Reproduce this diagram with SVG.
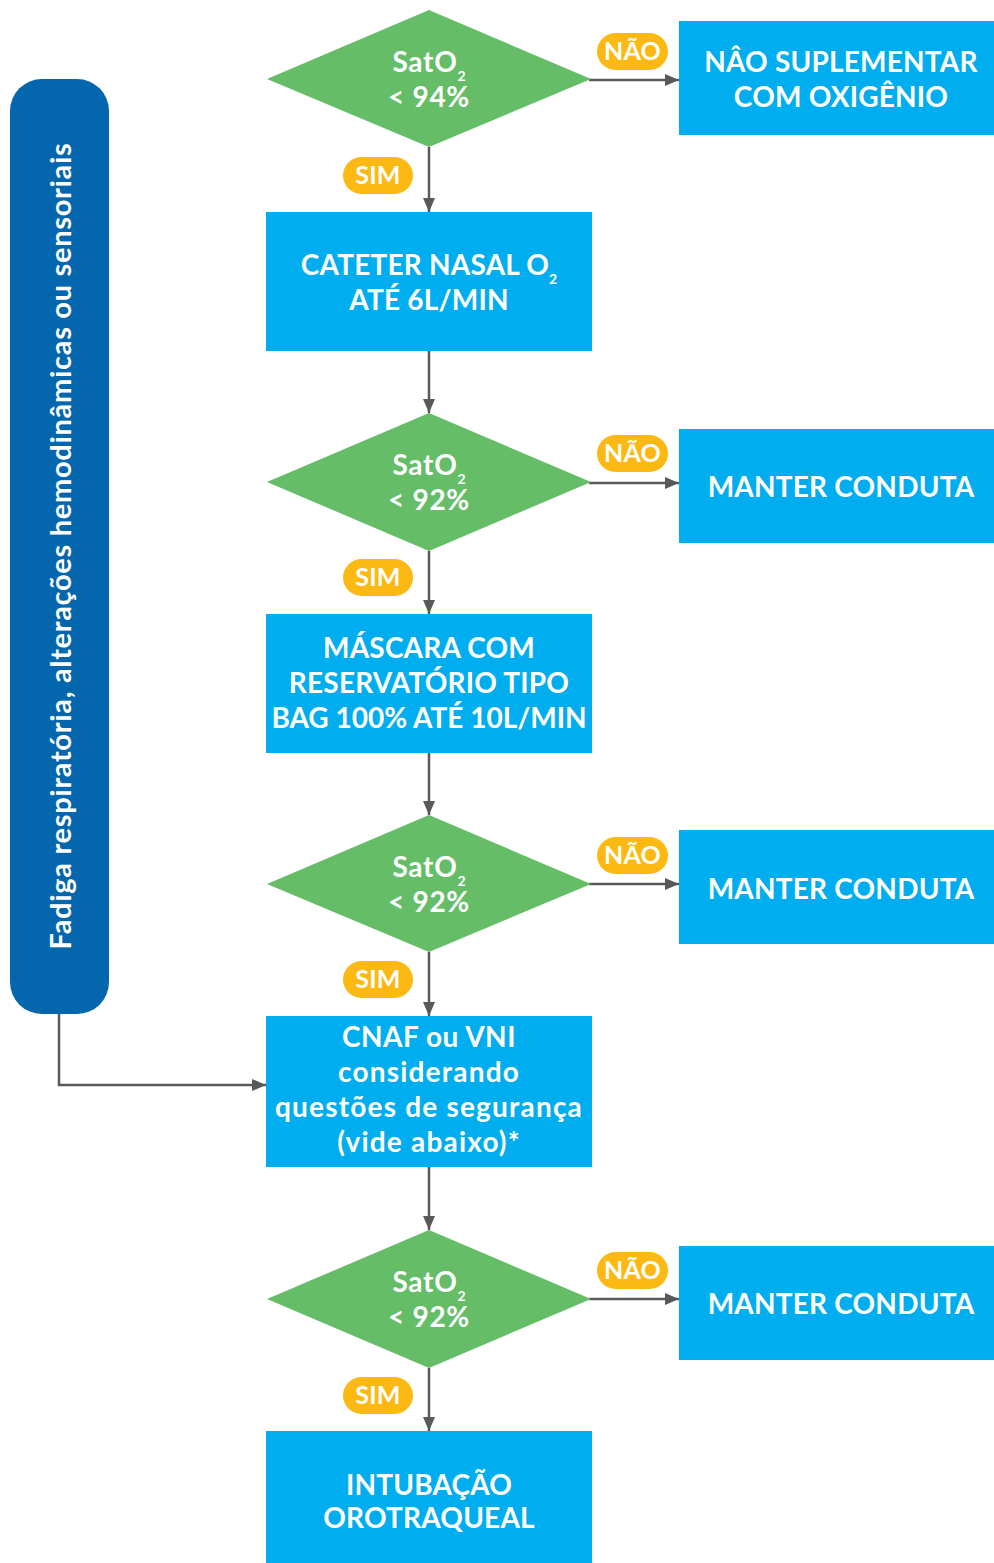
<svg xmlns="http://www.w3.org/2000/svg" width="994" height="1563" viewBox="0 0 994 1563">
  <defs>
    <marker id="arrow" viewBox="0 0 14 12" refX="14" refY="6" markerWidth="14" markerHeight="12" markerUnits="userSpaceOnUse" orient="auto">
      <path d="M0,0 L14,6 L0,12 Z" fill="#58595B"/>
    </marker>
    <style>
      .box { fill: #00AEEF; }
      .dia { fill: #65BD67; }
      .bar { fill: #0466AD; }
      .pill { fill: #FDB913; }
      .t { font-family: "Lato", "Liberation Sans", sans-serif; font-weight: 700; fill: #FFFFFF; text-anchor: middle; font-size: 28px; letter-spacing: 0.2px; }
      .lc { letter-spacing: 1.2px; }
      .dt { letter-spacing: 0.7px; }
      .side { font-size: 29px; letter-spacing: 0.7px; }
      .pt { font-size: 25px; letter-spacing: 0.2px; }
      .sub { font-size: 14px; letter-spacing: 0; }
      .conn path { fill: none; stroke: #58595B; stroke-width: 2.5; marker-end: url(#arrow); }
    </style>
  </defs>

  <rect width="994" height="1563" fill="#FFFFFF"/>

  <!-- connectors -->
  <g id="connectors" class="conn">
    <path d="M429,147 V212"/>
    <path d="M429,351 V413"/>
    <path d="M429,551 V614"/>
    <path d="M429,753 V815"/>
    <path d="M429,952 V1016"/>
    <path d="M429,1167 V1230"/>
    <path d="M429,1368 V1431"/>
    <path d="M589,80 H679"/>
    <path d="M589,483 H679"/>
    <path d="M589,884 H679"/>
    <path d="M589,1299 H679"/>
    <path d="M59,1014 V1085 H266"/>
  </g>

  <!-- side condition bar -->
  <g id="side-bar">
    <rect class="bar" x="10" y="79" width="99" height="935" rx="32"/>
    <text class="t side" transform="translate(71,546) rotate(-90)">Fadiga respiratória, alterações hemodinâmicas ou sensoriais</text>
  </g>

  <!-- decision 1 -->
  <g id="decision1">
    <polygon class="dia" points="429,10 591,79 429,147 267,79"/>
    <text class="t dt" x="429" y="72">SatO<tspan class="sub" dy="9">2</tspan></text>
    <text class="t dt" x="429" y="107">&lt; 94%</text>
  </g>
  <g id="no1">
    <rect class="pill" x="597" y="33" width="71" height="37" rx="18.5"/>
    <text class="t pt" x="632.5" y="60">NÃO</text>
  </g>
  <g id="yes1">
    <rect class="pill" x="343" y="157" width="70" height="37" rx="18.5"/>
    <text class="t pt" x="378" y="184">SIM</text>
  </g>
  <g id="result1">
    <rect class="box" x="679" y="21" width="315" height="114"/>
    <text class="t" x="841" y="72">NÂO SUPLEMENTAR</text>
    <text class="t" x="841" y="107">COM OXIGÊNIO</text>
  </g>

  <!-- step: nasal catheter -->
  <g id="step1">
    <rect class="box" x="266" y="212" width="326" height="139"/>
    <text class="t" x="429" y="275">CATETER NASAL O<tspan class="sub" dy="9">2</tspan></text>
    <text class="t" x="429" y="310">ATÉ 6L/MIN</text>
  </g>

  <!-- decision 2 -->
  <g id="decision2">
    <polygon class="dia" points="429,413 591,482 429,551 267,482"/>
    <text class="t dt" x="429" y="475">SatO<tspan class="sub" dy="9">2</tspan></text>
    <text class="t dt" x="429" y="510">&lt; 92%</text>
  </g>
  <g id="no2">
    <rect class="pill" x="597" y="435" width="71" height="37" rx="18.5"/>
    <text class="t pt" x="632.5" y="462">NÃO</text>
  </g>
  <g id="yes2">
    <rect class="pill" x="343" y="559" width="70" height="37" rx="18.5"/>
    <text class="t pt" x="378" y="586">SIM</text>
  </g>
  <g id="result2">
    <rect class="box" x="679" y="429" width="315" height="114"/>
    <text class="t" x="841" y="497">MANTER CONDUTA</text>
  </g>

  <!-- step: reservoir mask -->
  <g id="step2">
    <rect class="box" x="266" y="614" width="326" height="139"/>
    <text class="t" x="429" y="658">MÁSCARA COM</text>
    <text class="t" x="429" y="693">RESERVATÓRIO TIPO</text>
    <text class="t" x="429" y="728" style="letter-spacing:0">BAG 100% ATÉ 10L/MIN</text>
  </g>

  <!-- decision 3 -->
  <g id="decision3">
    <polygon class="dia" points="429,815 591,884 429,952 267,884"/>
    <text class="t dt" x="429" y="877">SatO<tspan class="sub" dy="9">2</tspan></text>
    <text class="t dt" x="429" y="912">&lt; 92%</text>
  </g>
  <g id="no3">
    <rect class="pill" x="597" y="837" width="71" height="37" rx="18.5"/>
    <text class="t pt" x="632.5" y="864">NÃO</text>
  </g>
  <g id="yes3">
    <rect class="pill" x="343" y="961" width="70" height="37" rx="18.5"/>
    <text class="t pt" x="378" y="988">SIM</text>
  </g>
  <g id="result3">
    <rect class="box" x="679" y="830" width="315" height="114"/>
    <text class="t" x="841" y="899">MANTER CONDUTA</text>
  </g>

  <!-- step: high-flow / NIV -->
  <g id="step3">
    <rect class="box" x="266" y="1016" width="326" height="151"/>
    <text class="t" x="429" y="1047" style="letter-spacing:0.5px">CNAF ou VNI</text>
    <text class="t lc" x="429" y="1082">considerando</text>
    <text class="t lc" x="429" y="1117">questões de segurança</text>
    <text class="t lc" x="429" y="1152">(vide abaixo)*</text>
  </g>

  <!-- decision 4 -->
  <g id="decision4">
    <polygon class="dia" points="429,1230 591,1299 429,1368 267,1299"/>
    <text class="t dt" x="429" y="1292">SatO<tspan class="sub" dy="9">2</tspan></text>
    <text class="t dt" x="429" y="1327">&lt; 92%</text>
  </g>
  <g id="no4">
    <rect class="pill" x="597" y="1252" width="71" height="37" rx="18.5"/>
    <text class="t pt" x="632.5" y="1279">NÃO</text>
  </g>
  <g id="yes4">
    <rect class="pill" x="343" y="1377" width="70" height="37" rx="18.5"/>
    <text class="t pt" x="378" y="1404">SIM</text>
  </g>
  <g id="result4">
    <rect class="box" x="679" y="1246" width="315" height="114"/>
    <text class="t" x="841" y="1314">MANTER CONDUTA</text>
  </g>

  <!-- final step: intubation -->
  <g id="step4">
    <rect class="box" x="266" y="1431" width="326" height="132"/>
    <text class="t" x="429" y="1495">INTUBAÇÃO</text>
    <text class="t" x="429" y="1528">OROTRAQUEAL</text>
  </g>
</svg>
